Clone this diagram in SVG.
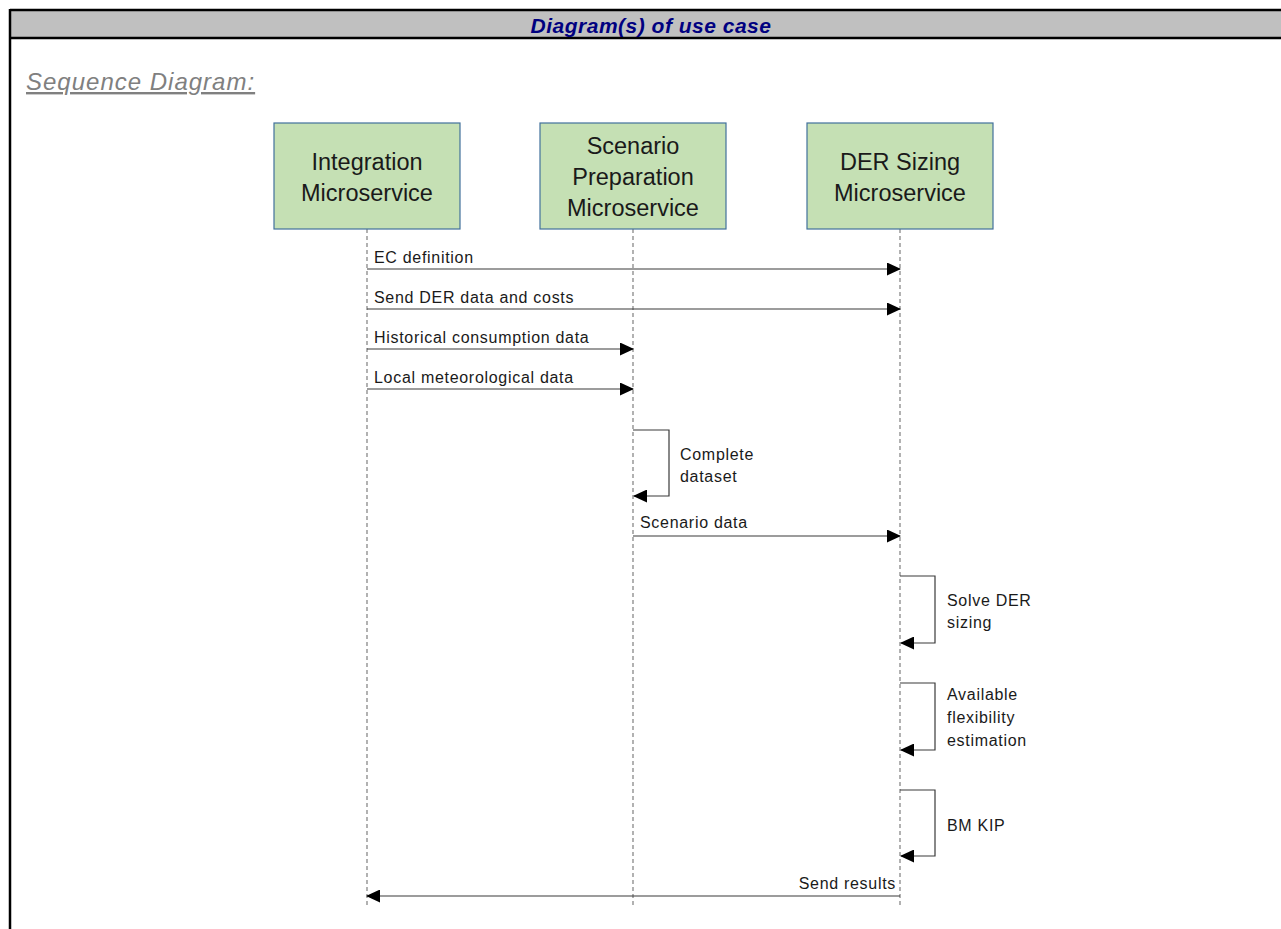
<svg xmlns="http://www.w3.org/2000/svg" width="1281" height="929" viewBox="0 0 1281 929">
  <style>
    .frame { stroke: #000; stroke-width: 2.5; fill: none; }
    .hdr { font-family: "Liberation Sans", Arial, sans-serif; font-size: 21px; font-weight: bold; font-style: italic; fill: #000080; letter-spacing: 0.5px; }
    .sub { font-family: "Liberation Sans", Arial, sans-serif; font-size: 24px; font-style: italic; fill: #808080; text-decoration: underline; letter-spacing: 1px; }
    .box { fill: #c5e0b4; stroke: #41719c; stroke-width: 1.2; }
    .btxt { font-family: "Liberation Sans", Arial, sans-serif; font-size: 23.5px; fill: #1a1a1a; text-anchor: middle; }
    .life { stroke: #7f7f7f; stroke-width: 1.2; stroke-dasharray: 4 3; fill: none; }
    .msg { stroke: #3a3a3a; stroke-width: 1.2; fill: none; }
    .lbl { font-family: "Liberation Sans", Arial, sans-serif; font-size: 16px; fill: #1a1a1a; letter-spacing: 0.7px; }
  </style>
  <defs>
    <marker id="arrow" markerWidth="14" markerHeight="13" refX="13" refY="6.5" orient="auto" markerUnits="userSpaceOnUse">
      <path d="M0,0 L14,6.5 L0,13 Z" fill="#000"/>
    </marker>
  </defs>

  <rect width="1281" height="929" fill="#fff"/>

  <!-- table header -->
  <g id="header">
    <rect x="10" y="10" width="1271" height="28" fill="#c0c0c0"/>
    <line class="frame" x1="10" y1="10" x2="1281" y2="10"/>
    <line class="frame" x1="10" y1="38" x2="1281" y2="38"/>
    <line class="frame" x1="10" y1="9" x2="10" y2="929"/>
    <text class="hdr" x="651" y="33" text-anchor="middle">Diagram(s) of use case</text>
  </g>

  <g id="subtitle">
    <text class="sub" x="26" y="90">Sequence Diagram:</text>
  </g>

  <!-- lifelines -->
  <g id="lifelines">
    <line class="life" x1="367" y1="229" x2="367" y2="905"/>
    <line class="life" x1="633" y1="229" x2="633" y2="905"/>
    <line class="life" x1="900" y1="229" x2="900" y2="905"/>
  </g>

  <g id="integration">
    <rect class="box" x="274" y="123" width="186" height="106"/>
    <text class="btxt" x="367" y="170">Integration</text>
    <text class="btxt" x="367" y="201">Microservice</text>
  </g>

  <g id="scenario">
    <rect class="box" x="540" y="123" width="186" height="106"/>
    <text class="btxt" x="633" y="154">Scenario</text>
    <text class="btxt" x="633" y="185">Preparation</text>
    <text class="btxt" x="633" y="216">Microservice</text>
  </g>

  <g id="dersizing">
    <rect class="box" x="807" y="123" width="186" height="106"/>
    <text class="btxt" x="900" y="170">DER Sizing</text>
    <text class="btxt" x="900" y="201">Microservice</text>
  </g>

  <!-- messages -->
  <g id="connectors">
    <line class="msg" x1="367" y1="269" x2="900" y2="269" marker-end="url(#arrow)"/>
    <line class="msg" x1="367" y1="309" x2="900" y2="309" marker-end="url(#arrow)"/>
    <line class="msg" x1="367" y1="349" x2="633" y2="349" marker-end="url(#arrow)"/>
    <line class="msg" x1="367" y1="389" x2="633" y2="389" marker-end="url(#arrow)"/>
    <polyline class="msg" points="633,430 669,430 669,496 634,496" marker-end="url(#arrow)"/>
    <line class="msg" x1="633" y1="536" x2="900" y2="536" marker-end="url(#arrow)"/>
    <polyline class="msg" points="900,576 935,576 935,643 901,643" marker-end="url(#arrow)"/>
    <polyline class="msg" points="900,683 935,683 935,750 901,750" marker-end="url(#arrow)"/>
    <polyline class="msg" points="900,790 935,790 935,856 901,856" marker-end="url(#arrow)"/>
    <line class="msg" x1="900" y1="896" x2="367" y2="896" marker-end="url(#arrow)"/>
  </g>

  <g id="labels">
    <text class="lbl" x="374" y="263">EC definition</text>
    <text class="lbl" x="374" y="303">Send DER data and costs</text>
    <text class="lbl" x="374" y="343">Historical consumption data</text>
    <text class="lbl" x="374" y="383">Local meteorological data</text>
    <text class="lbl" x="680" y="460">Complete</text>
    <text class="lbl" x="680" y="482">dataset</text>
    <text class="lbl" x="640" y="528">Scenario data</text>
    <text class="lbl" x="947" y="606">Solve DER</text>
    <text class="lbl" x="947" y="628">sizing</text>
    <text class="lbl" x="947" y="700">Available</text>
    <text class="lbl" x="947" y="723">flexibility</text>
    <text class="lbl" x="947" y="746">estimation</text>
    <text class="lbl" x="947" y="831">BM KIP</text>
    <text class="lbl" x="896" y="889" text-anchor="end">Send results</text>
  </g>
</svg>
